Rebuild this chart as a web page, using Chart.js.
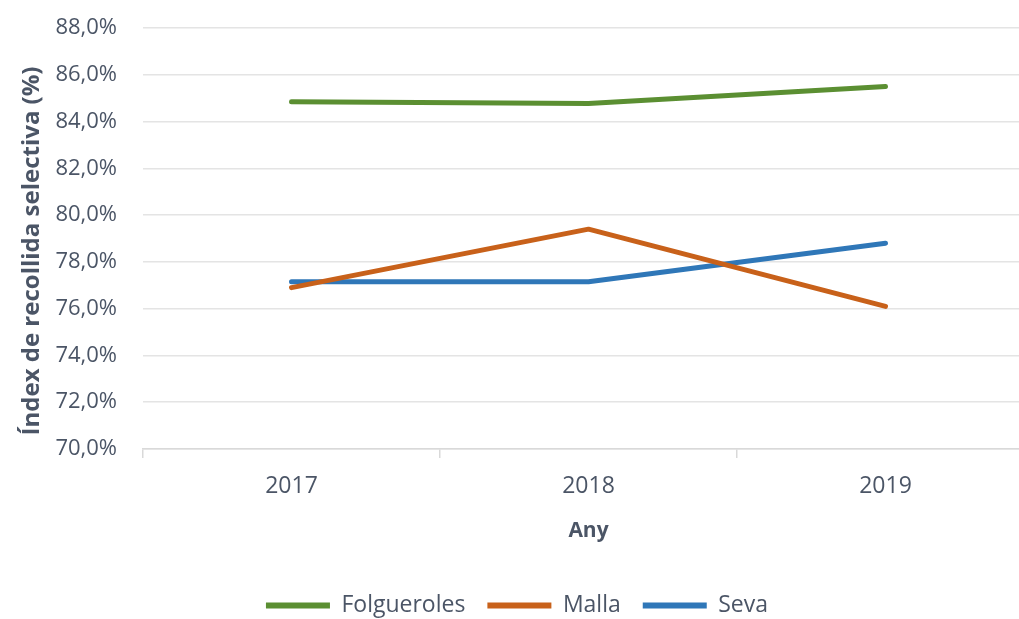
<!DOCTYPE html>
<html>
<head>
<meta charset="utf-8">
<script src="https://cdn.jsdelivr.net/npm/chart.js@4"></script>
<style>
  html, body { margin: 0; padding: 0; background: #fff; overflow: hidden; }
  #wrap { width: 1045px; height: 619px; }
</style>
</head>
<body>
<div id="wrap"><canvas id="line-chart" width="1045" height="619"></canvas></div>
<script>
const years = ['2017', '2018', '2019'];
const folgueroles = [84.85, 84.77, 85.5];
const malla = [76.9, 79.4, 76.1];
const seva = [77.15, 77.15, 78.8];
const yTicks = [70, 72, 74, 76, 78, 80, 82, 84, 86, 88];

const textColor = '#4b5566';
const lineChart = document.getElementById('line-chart');

new Chart(lineChart, {
    type: 'line',
    data: {
        labels: years,
        datasets: [
            { label: 'Folgueroles', data: folgueroles, borderColor: '#5b8f32', backgroundColor: '#5b8f32' },
            { label: 'Malla', data: malla, borderColor: '#c8611a', backgroundColor: '#c8611a' },
            { label: 'Seva', data: seva, borderColor: '#2f77b8', backgroundColor: '#2f77b8' }
        ].map(d => Object.assign(d, {
            borderWidth: 5,
            tension: 0,
            pointRadius: 0,
            borderCapStyle: 'round',
            borderJoinStyle: 'round'
        }))
    },
    options: {
        responsive: false,
        animation: false,
        layout: {
            padding: { top: 28, right: 11, left: 0, bottom: -8 }
        },
        scales: {
            y: {
                min: 70,
                max: 88,
                afterBuildTicks: s => { s.ticks = yTicks.map(v => ({ value: v })); },
                afterFit: s => { s.width = 143; s.paddingTop = 0; s.paddingBottom = 0; },
                grid: { color: '#e4e4e4', lineWidth: 1.5, drawTicks: false },
                border: { display: false },
                ticks: {
                    padding: 26,
                    color: textColor,
                    font: { family: 'Open Sans', size: 22 },
                    callback: v => v.toFixed(1).replace('.', ',') + '%'
                },
                title: {
                    display: true,
                    text: 'Índex de recollida selectiva (%)    ',
                    color: textColor,
                    font: { family: 'Open Sans', size: 24, weight: 'bold' },
                    padding: { top: 18, bottom: 0 }
                }
            },
            x: {
                offset: true,
                afterFit: s => { s.height = 123; },
                grid: {
                    offset: true,
                    drawOnChartArea: false,
                    drawTicks: true,
                    tickLength: 9,
                    color: '#d9d9d9',
                    lineWidth: 1.5
                },
                border: { color: '#d9d9d9', width: 1.5 },
                ticks: {
                    padding: 15,
                    color: textColor,
                    font: { family: 'Open Sans', size: 23 }
                },
                title: {
                    display: true,
                    text: 'Any',
                    color: textColor,
                    font: { family: 'Open Sans', size: 21, weight: 'bold' },
                    padding: { top: 10, bottom: 28 }
                }
            }
        },
        plugins: {
            legend: {
                position: 'bottom',
                labels: {
                    color: textColor,
                    font: { family: 'Open Sans', size: 23 },
                    boxWidth: 64,
                    boxHeight: 6,
                    padding: 22,
                    generateLabels: chart => Chart.defaults.plugins.legend.labels.generateLabels(chart)
                        .map(l => Object.assign(l, { lineWidth: 0 }))
                }
            },
            tooltip: { enabled: false }
        }
    }
});
</script>
</body>
</html>
